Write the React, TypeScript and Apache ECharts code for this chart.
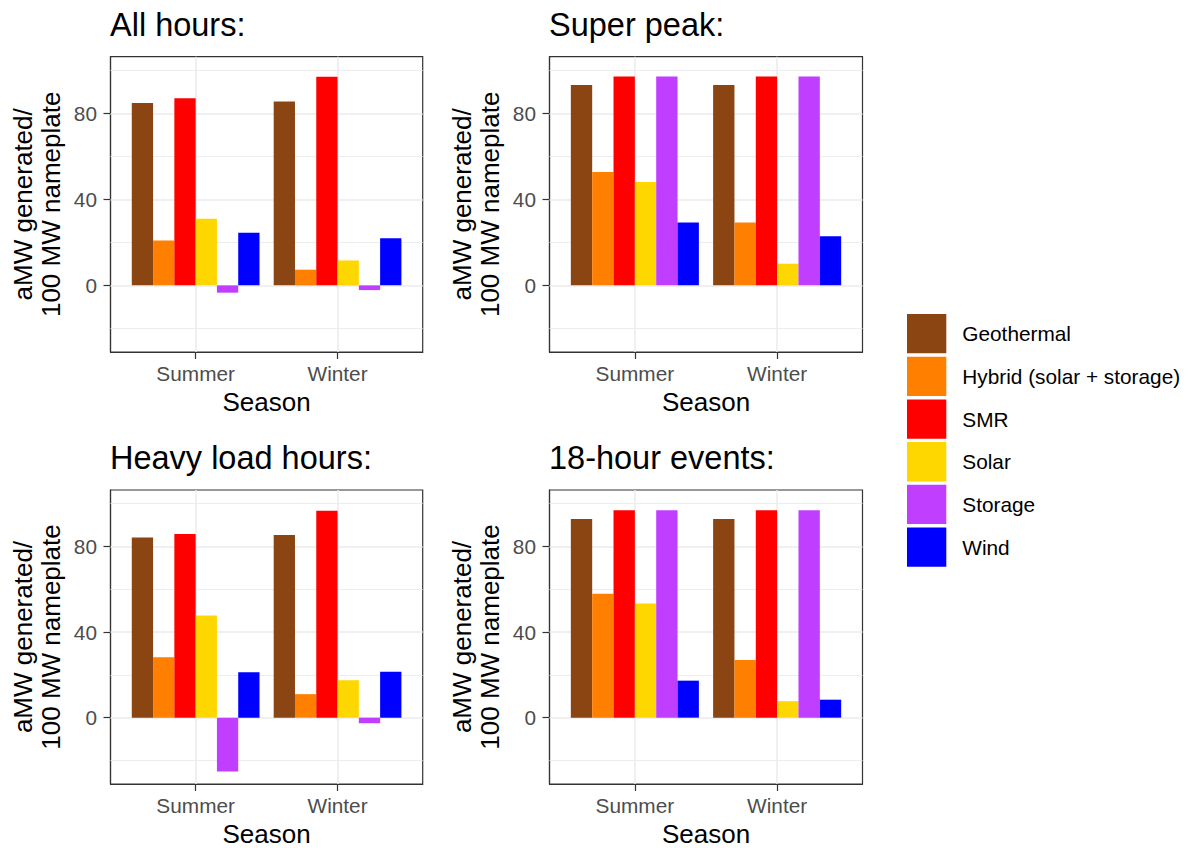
import React, { useEffect, useRef } from 'react';
import * as echarts from 'echarts';

const seasons = ['Summer', 'Winter'];
const technologies = ['Geothermal', 'Hybrid (solar + storage)', 'SMR', 'Solar', 'Storage', 'Wind'];
const techColors = ['#8B4513', '#FF7F00', '#FF0000', '#FFD700', '#BF3EFF', '#0000FF'];
const panelTitles = ['All hours:', 'Super peak:', 'Heavy load hours:', '18-hour events:'];

// values per technology: [Summer, Winter]
const allHours = [[84.8, 85.6], [20.9, 7.3], [87.1, 97.1], [31.0, 11.6], [-3.4, -2.2], [24.5, 21.9]];
const superPeak = [[93.2, 93.2], [52.7, 29.3], [97.2, 97.2], [48.1, 10.1], [97.2, 97.2], [29.3, 22.9]];
const heavyLoad = [[84.2, 85.4], [28.2, 11.0], [85.8, 96.7], [47.7, 17.5], [-25.1, -2.6], [21.2, 21.5]];
const eighteenHour = [[92.9, 92.9], [57.9, 26.9], [96.9, 96.9], [53.3, 7.7], [96.9, 96.9], [17.3, 8.4]];
const panelValues = [allHours, superPeak, heavyLoad, eighteenHour];

const yMajorTicks = [0, 40, 80];
const yMinorLines = [-20, 20, 60, 100];
const xTickPositions = [1, 2];
const yMin = -31;
const yMax = 106.4;

const FONT = '"Liberation Sans", Arial, Helvetica, sans-serif';

const grids = [
  { left: 110.5, top: 56.7, width: 312.2, height: 295.3 },
  { left: 549.5, top: 56.7, width: 313, height: 295.3 },
  { left: 110.5, top: 490, width: 312.2, height: 295 },
  { left: 549.5, top: 490, width: 313, height: 295 },
];

export default function App() {
  const ref = useRef<HTMLDivElement>(null);

  useEffect(() => {
    if (!ref.current) return;
    const chart = echarts.init(ref.current, undefined, { renderer: 'svg' });

    const gridLineColor = '#EBEBEB';
    const series: any[] = [];
    panelValues.forEach((vals, p) => {
      // background grid lines, drawn through the panel's own axes
      series.push({
        type: 'line',
        name: '__grid' + p,
        xAxisIndex: p,
        yAxisIndex: p,
        data: [],
        silent: true,
        z: 1,
        markLine: {
          silent: true,
          z: 1,
          symbol: ['none', 'none'],
          label: { show: false },
          emphasis: { disabled: true },
          animation: false,
          data: [
            ...yMajorTicks.map((v) => ({ yAxis: v, lineStyle: { color: gridLineColor, width: 1.5, type: 'solid' } })),
            ...yMinorLines.map((v) => ({ yAxis: v, lineStyle: { color: gridLineColor, width: 0.9, type: 'solid' } })),
            ...xTickPositions.map((v) => ({ xAxis: v, lineStyle: { color: gridLineColor, width: 1.5, type: 'solid' } })),
          ],
        },
      });
      technologies.forEach((tech, t) => {
        series.push({
          type: 'bar',
          name: tech,
          xAxisIndex: p,
          yAxisIndex: p,
          data: seasons.map((_, k) => [xTickPositions[k], vals[t][k]]),
          barWidth: '15%',
          barGap: '0%',
          itemStyle: { color: techColors[t] },
          emphasis: { disabled: true },
          z: 3,
        });
      });
    });

    const option: any = {
      animation: false,
      color: techColors,
      title: panelTitles.map((text, i) => ({
        text,
        left: grids[i].left - 0.5,
        top: i < 2 ? 8.2 : 441.5,
        padding: 0,
        textStyle: { fontSize: 32.5, fontWeight: 'normal', color: '#000', fontFamily: FONT },
      })),
      legend: {
        data: technologies,
        orient: 'vertical',
        left: 907,
        top: 314,
        padding: 0,
        itemWidth: 39.3,
        itemHeight: 39.3,
        itemGap: 3.4,
        icon: 'rect',
        selectedMode: false,
        textStyle: { fontSize: 20.8, color: '#000', fontFamily: FONT, padding: [0, 0, 0, 11] },
      },
      grid: grids.map((g) => ({
        ...g,
        show: true,
        borderColor: '#333333',
        borderWidth: 1.2,
        backgroundColor: 'transparent',
        containLabel: false,
      })),
      xAxis: grids.map((_, i) => ({
        type: 'value',
        gridIndex: i,
        min: 0.4,
        max: 2.6,
        axisLine: { show: true, onZero: false, lineStyle: { color: '#333333', width: 1.2 } },
        splitLine: { show: false },
        axisTick: { show: true, customValues: xTickPositions, length: 7, lineStyle: { color: '#333333', width: 1.2 } },
        axisLabel: {
          customValues: xTickPositions,
          formatter: (v: number) => seasons[Math.round(v) - 1] ?? '',
          fontSize: 20.8,
          color: '#4D4D4D',
          margin: 11,
          fontFamily: FONT,
        },
        name: 'Season',
        nameLocation: 'middle',
        nameGap: 37,
        nameTextStyle: { fontSize: 26, color: '#000', fontFamily: FONT },
      })),
      yAxis: grids.map((_, i) => ({
        type: 'value',
        gridIndex: i,
        min: yMin,
        max: yMax,
        axisLine: { show: true, onZero: false, lineStyle: { color: '#333333', width: 1.2 } },
        splitLine: { show: false },
        axisTick: { show: true, customValues: yMajorTicks, length: 7, lineStyle: { color: '#333333', width: 1.2 } },
        axisLabel: {
          customValues: yMajorTicks,
          fontSize: 20.8,
          color: '#4D4D4D',
          margin: 13.5,
          fontFamily: FONT,
        },
        name: 'aMW generated/\n100 MW nameplate',
        nameLocation: 'middle',
        nameRotate: 90,
        nameGap: 45.5,
        nameTextStyle: { fontSize: 26, lineHeight: 28, color: '#000', fontFamily: FONT },
      })),
      series,
    };

    chart.setOption(option);
    return () => chart.dispose();
  }, []);

  return (
    <div
      ref={ref}
      style={{ position: 'absolute', left: 0, top: 0, width: 1194, height: 848, background: '#fff' }}
    />
  );
}
